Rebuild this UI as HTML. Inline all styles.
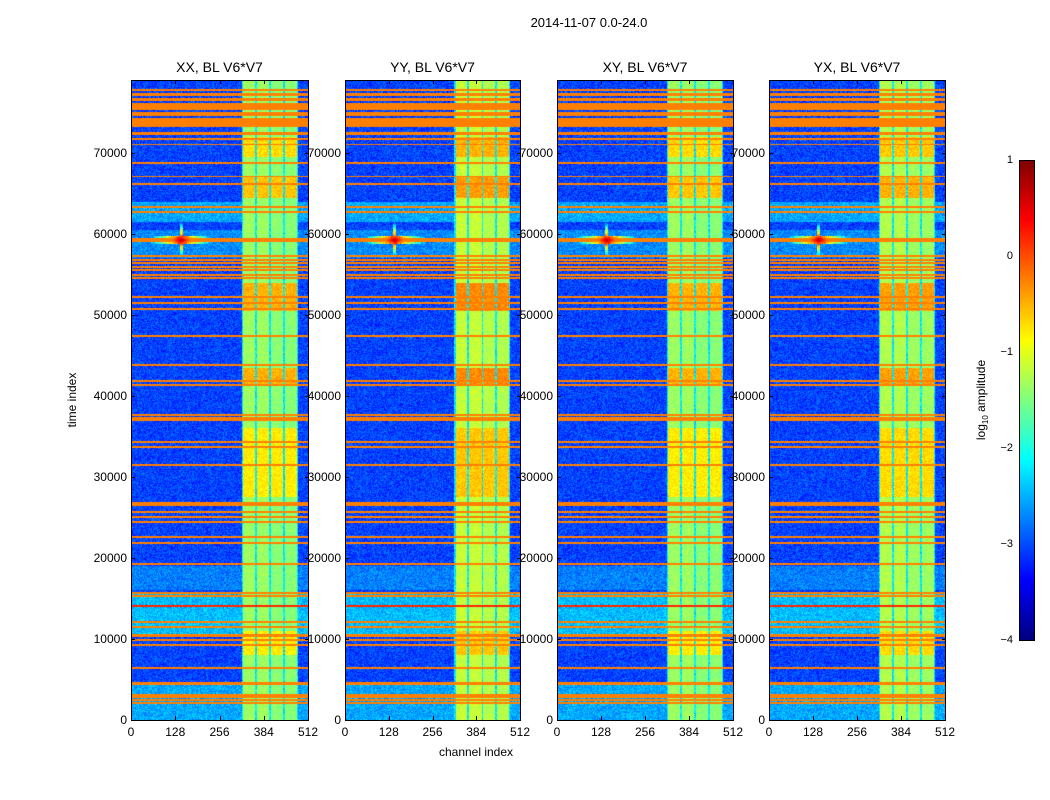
<!DOCTYPE html>
<html><head><meta charset="utf-8">
<style>
html,body{margin:0;padding:0;background:#fff;}
body{width:1050px;height:800px;position:relative;overflow:hidden;font-family:"Liberation Sans",sans-serif;color:#000;}
.t{position:absolute;white-space:nowrap;font-size:12px;}
canvas{position:absolute;}
.frame{position:absolute;border:1px solid #000;box-sizing:border-box;}
</style></head>
<body>
<div class="t" style="left:0;width:1178px;text-align:center;top:15px;font-size:13px;">2014-11-07 0.0-24.0</div>
<div class="t" style="left:476px;top:745px;transform:translateX(-50%);font-size:12px;">channel index</div>
<div class="t" style="left:72px;top:400px;transform:translate(-50%,-50%) rotate(-90deg);font-size:12px;">time index</div>
<div class="t" style="left:982px;top:400px;transform:translate(-50%,-50%) rotate(-90deg);font-size:12px;">log<sub style="font-size:8px">10</sub> amplitude</div>
<div id="root"></div>
<script>
const panelTitles = ["XX, BL V6*V7","YY, BL V6*V7","XY, BL V6*V7","YX, BL V6*V7"];
const panelBoost = [0, 0.2, 0, 0.1];
const xTicks = [0,128,256,384,512];
const yTicks = [0,10000,20000,30000,40000,50000,60000,70000];
const cbTicks = [1,0,-1,-2,-3,-4];
const channelBands = [[324,358,-1.35],[364,400,-1.35],[405,440,-1.45],[445,480,-1.45]];
const bandRegion = [320,484,-2.2];
const backgroundLevel = -3.05;
const backgroundZones = [[61500,64000,-2.55],[10500,15500,-2.45],[0,4500,-2.55],[16000,19000,-2.75],[57000,60500,-2.7]];
const hotBlocks = [[64500,67000,-0.6],[50500,54000,-0.5],[41500,43500,-0.5],[27500,36000,-0.8],[69500,72000,-0.7],[8000,11000,-0.8]];
const rfiRows = [
 [77650,77900,-0.25],[77040,77400,-0.25],[76420,76790,-0.25],[75310,76170,-0.25],[74570,75060,-0.25],[73210,74320,-0.25],
 [72220,72590,-0.25],[71600,71850,-0.25],[70990,71110,-0.25],[68700,68850,-0.25],[67040,67160,-0.25],[66100,66250,-0.25],
 [63210,63460,-0.25],[62650,62800,-0.25],[59010,59510,-0.25],[57160,57410,-0.25],[56720,56860,-0.25],[56350,56500,-0.25],
 [55860,56000,-0.25],[55490,55630,-0.25],[54870,55010,-0.25],[54500,54640,-0.25],[52150,52290,-0.25],[51410,51550,-0.25],
 [50620,50870,-0.25],[47340,47480,-0.25],[43760,43900,-0.25],[41730,41980,-0.25],[41290,41430,-0.25],[37580,37720,-0.25],
 [36910,37410,-0.25],[34250,34390,-0.25],[33630,33770,-0.25],[31410,31550,-0.25],[26720,26860,-0.25],[26470,26610,-0.25],
 [25610,25750,-0.25],[24940,25190,-0.25],[24370,24510,-0.25],[22520,22660,-0.25],[21780,21920,-0.25],[19190,19330,-0.25],
 [15610,15750,-0.25],[15240,15380,-0.25],[14000,14140,0.2],[12030,12170,-0.25],[11410,11550,-0.25],[10250,10620,-0.25],
 [9810,9950,-0.25],[9190,9330,-0.25],[6350,6490,-0.25],[4320,4690,-0.25],[3020,3160,-0.25],[2770,2910,-0.25],[2400,2540,-0.25],[2030,2170,-0.25]
];
const starCenter = [145, 59250];
const tMax = 79012;
const panelLeft = [131,345,557,769];
const panelWidth = [177,175,176,176];
const top0 = 80, plotH = 640;

function jet(v){
  let t=(v+4)/5; t=Math.max(0,Math.min(1,t));
  const c=x=>Math.max(0,Math.min(1,x));
  return [c(1.5-Math.abs(4*t-3))*255, c(1.5-Math.abs(4*t-2))*255, c(1.5-Math.abs(4*t-1))*255];
}
function hash(x,y){let h=(x*374761393+y*668265263)|0;h=(h^(h>>>13))*1274126177|0;return ((h^(h>>>16))>>>0)/4294967295;}
function value(ch,t,p,px,py){
  let v=backgroundLevel;
  for(const z of backgroundZones) if(t>=z[0]&&t<z[1]) v=Math.max(v,z[2]);
  if(ch>=bandRegion[0]&&ch<bandRegion[1]) v=Math.max(v,bandRegion[2]);
  let inBand=false;
  for(const b of channelBands) if(ch>=b[0]&&ch<b[1]){v=Math.max(v,b[2]+panelBoost[p]);inBand=true;}
  if(inBand) for(const h of hotBlocks) if(t>=h[0]&&t<h[1]) v=Math.max(v,h[2]+panelBoost[p]);
  let isRow=false;
  for(const r of rfiRows) if(t>=r[0]&&t<r[1]){ v=Math.max(v,r[2]); isRow=true; }
  const dx=Math.abs(ch-starCenter[0]), dt=Math.abs(t-starCenter[1]);
  if(dt<500) v=Math.max(v,0.7-dx/30-dt/800);
  if(dx<4) v=Math.max(v,0.7-dt/600);
  if(!isRow) v+= (hash(px+p*999,py)-0.5)*(inBand?0.35:0.6);
  return v;
}
const root=document.getElementById('root');
for(let p=0;p<4;p++){
  const L=panelLeft[p], W=panelWidth[p];
  const cv=document.createElement('canvas');
  
  
  cv.width=W;cv.height=plotH;cv.style.left=L+'px';cv.style.top=top0+'px';
  const ctx=cv.getContext('2d');const img=ctx.createImageData(W,plotH);
  for(let y=0;y<plotH;y++){
    const t=(plotH-y-0.5)/plotH*tMax;
    for(let x=0;x<W;x++){
      const ch=(x+0.5)/W*512;
      const c=jet(value(ch,t,p,x,y));const i=(y*W+x)*4;
      img.data[i]=c[0];img.data[i+1]=c[1];img.data[i+2]=c[2];img.data[i+3]=255;
    }
  }
  ctx.putImageData(img,0,0);root.appendChild(cv);
  const fr=document.createElement('div');fr.className='frame';
  
  
  fr.style.cssText=`left:${L}px;top:${top0}px;width:${W+1}px;height:${plotH+1}px;`;root.appendChild(fr);
  const ti=document.createElement('div');ti.className='t';
  
  
  ti.style.cssText=`left:${L+W/2}px;top:59px;transform:translateX(-50%);font-size:14px;`;ti.textContent=panelTitles[p];root.appendChild(ti);
  for(const xv of xTicks){
    const x=L+xv/512*W;
    const lb=document.createElement('div');lb.className='t';
    
    
    lb.style.cssText=`left:${x}px;top:725px;transform:translateX(-50%);`;lb.textContent=xv;root.appendChild(lb);
    for(const yy of [top0+plotH-4,top0]){const tk=document.createElement('div');
      
      
      tk.style.cssText=`position:absolute;left:${x}px;top:${yy}px;width:1px;height:4px;background:#000;`;root.appendChild(tk);}
  }
  for(const yv of yTicks){
    const y=top0+plotH-yv/tMax*plotH;
    const lb=document.createElement('div');lb.className='t';
    
    
    lb.style.cssText=`left:${L-4}px;top:${y}px;transform:translate(-100%,-50%);`;lb.textContent=yv;root.appendChild(lb);
    for(const xx of [L,L+W-3]){const tk=document.createElement('div');
      
      
      tk.style.cssText=`position:absolute;left:${xx}px;top:${y}px;width:4px;height:1px;background:#000;`;root.appendChild(tk);}
  }
}
const cb=document.createElement('canvas');


cb.width=15;cb.height=480;cb.style.left='1019px';cb.style.top='160px';
const cctx=cb.getContext('2d');
for(let y=0;y<480;y++){const c=jet(1-5*(y+0.5)/480);cctx.fillStyle=`rgb(${c[0]|0},${c[1]|0},${c[2]|0})`;cctx.fillRect(0,y,15,1);}
root.appendChild(cb);
const cbf=document.createElement('div');cbf.className='frame';


cbf.style.cssText='left:1019px;top:160px;width:16px;height:481px;';root.appendChild(cbf);
for(const v of cbTicks){
  const y=160+(1-v)/5*480;
  const lb=document.createElement('div');lb.className='t';
  
  
  lb.style.cssText=`left:1013px;top:${y}px;transform:translate(-100%,-50%);font-size:11px;`;lb.textContent=v<0?'\u2212'+(-v):v;root.appendChild(lb);
}
</script>
</body></html>
